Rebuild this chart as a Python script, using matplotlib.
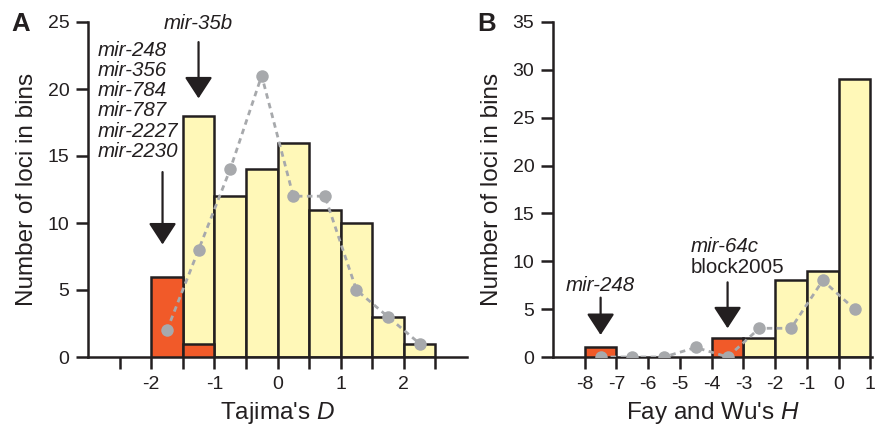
import matplotlib
matplotlib.use("Agg")
import matplotlib.pyplot as plt
import numpy as np

plt.rcParams['font.family'] = ['Liberation Sans', 'DejaVu Sans']
plt.rcParams['mathtext.fontset'] = 'custom'
plt.rcParams['mathtext.rm'] = 'Liberation Sans'
plt.rcParams['mathtext.it'] = 'Liberation Sans:italic'
plt.rcParams['axes.unicode_minus'] = False

# ---- Panel A data (Tajima's D) ----
a_bin_width = 0.5
a_yellow_left = [-1.5, -1.0, -0.5, 0.0, 0.5, 1.0, 1.5, 2.0]
a_yellow_counts = [18, 12, 14, 16, 11, 10, 3, 1]
a_red_left = [-2.0, -1.5]
a_red_counts = [6, 1]
a_dot_x = [-1.75, -1.25, -0.75, -0.25, 0.25, 0.75, 1.25, 1.75, 2.25]
a_dot_y = [2, 8, 14, 21, 12, 12, 5, 3, 1]
a_xticks = [-2.5, -2, -1.5, -1, -0.5, 0, 0.5, 1, 1.5, 2, 2.5]
a_xticklabels = ['', '-2', '', '-1', '', '0', '', '1', '', '2', '']
a_yticks = [0, 5, 10, 15, 20, 25]
a_mirs = ['mir-248', 'mir-356', 'mir-784', 'mir-787', 'mir-2227', 'mir-2230']

# ---- Panel B data (Fay and Wu's H) ----
b_bin_width = 1.0
b_yellow_left = [-3, -2, -1, 0]
b_yellow_counts = [2, 8, 9, 29]
b_red_left = [-8, -4]
b_red_counts = [1, 2]
b_dot_x = [-7.5, -6.5, -5.5, -4.5, -3.5, -2.5, -1.5, -0.5, 0.5]
b_dot_y = [0, 0, 0, 1, 0, 3, 3, 8, 5]
b_xticks = [-8, -7, -6, -5, -4, -3, -2, -1, 0, 1]
b_yticks = [0, 5, 10, 15, 20, 25, 30, 35]

YELLOW = '#FFF8B8'
RED = '#F15A29'
GREY = '#A7A9AC'
BLACK = '#231F20'
LW = 1.8
TICK_FS = 14
LABEL_FS = 17.5
ANN_FS = 14.8

fig = plt.figure(figsize=(8.88, 4.29), dpi=100)
axA = fig.add_axes([88/888, 72/429, 379/888, 335/429])
axB = fig.add_axes([553/888, 72/429, 319/888, 335/429])

def style(ax):
    for s in ['top', 'right']:
        ax.spines[s].set_visible(False)
    for s in ['left', 'bottom']:
        ax.spines[s].set_linewidth(LW)
        ax.spines[s].set_color(BLACK)
    ax.tick_params(direction='out', length=8.5, width=LW, color=BLACK,
                   labelsize=TICK_FS, pad=5, labelcolor=BLACK)

def arrow(ax, x, y0, y1):
    ax.annotate('', xy=(x, y1), xytext=(x, y0),
                arrowprops=dict(arrowstyle='-|>,head_width=0.43,head_length=0.66',
                                mutation_scale=20, color=BLACK, lw=1.6,
                                shrinkA=0, shrinkB=0))

# Panel A
style(axA)
axA.bar(a_yellow_left, a_yellow_counts, width=a_bin_width, align='edge',
        color=YELLOW, edgecolor=BLACK, linewidth=LW, zorder=2)
axA.bar(a_red_left, a_red_counts, width=a_bin_width, align='edge',
        color=RED, edgecolor=BLACK, linewidth=LW, zorder=3)
axA.plot(a_dot_x, a_dot_y, linestyle=(0, (2, 1.6)), color=GREY, lw=2,
         marker='o', markersize=9, markeredgewidth=0, zorder=4)
axA.set_xlim(-3, 3)
axA.set_ylim(0, 25)
axA.set_xticks(a_xticks)
axA.set_xticklabels(a_xticklabels)
axA.set_yticks(a_yticks)
axA.set_ylabel('Number of loci in bins', fontsize=LABEL_FS, labelpad=7, color=BLACK)
axA.set_xlabel("Tajima's $D$", fontsize=LABEL_FS, labelpad=5, color=BLACK)
axA.text(-1.25, 24.9, 'mir-35b', style='italic', fontsize=ANN_FS, ha='center',
         va='center', color=BLACK)
arrow(axA, -1.25, 23.5, 19.3)
axA.text(-2.85, 23.6, '\n'.join(a_mirs), style='italic', fontsize=ANN_FS,
         ha='left', va='top', color=BLACK, linespacing=1.08)
arrow(axA, -1.82, 13.8, 8.4)
fig.text(11/888, 1 - 31/429, 'A', fontsize=18.5, fontweight='bold', color=BLACK)

# Panel B
style(axB)
axB.bar(b_yellow_left, b_yellow_counts, width=b_bin_width, align='edge',
        color=YELLOW, edgecolor=BLACK, linewidth=LW, zorder=2)
axB.bar(b_red_left, b_red_counts, width=b_bin_width, align='edge',
        color=RED, edgecolor=BLACK, linewidth=LW, zorder=3)
axB.plot(b_dot_x, b_dot_y, linestyle=(0, (2, 1.6)), color=GREY, lw=2,
         marker='o', markersize=9, markeredgewidth=0, zorder=4)
axB.set_xlim(-9, 1.05)
axB.set_ylim(0, 35)
axB.set_xticks(b_xticks)
axB.set_yticks(b_yticks)
axB.set_ylabel('Number of loci in bins', fontsize=LABEL_FS, labelpad=7, color=BLACK)
axB.set_xlabel("Fay and Wu's $H$", fontsize=LABEL_FS, labelpad=5, color=BLACK)
axB.text(-7.5, 7.5, 'mir-248', style='italic', fontsize=ANN_FS, ha='center',
         va='center', color=BLACK)
arrow(axB, -7.5, 6.2, 2.3)
axB.text(-4.65, 11.5, 'mir-64c', style='italic', fontsize=ANN_FS, ha='left',
         va='center', color=BLACK)
axB.text(-4.65, 9.3, 'block2005', fontsize=ANN_FS, ha='left', va='center', color=BLACK)
arrow(axB, -3.5, 7.8, 3.0)
fig.text(477/888, 1 - 31/429, 'B', fontsize=18.5, fontweight='bold', color=BLACK)

fig.savefig('out.png', dpi=100)
